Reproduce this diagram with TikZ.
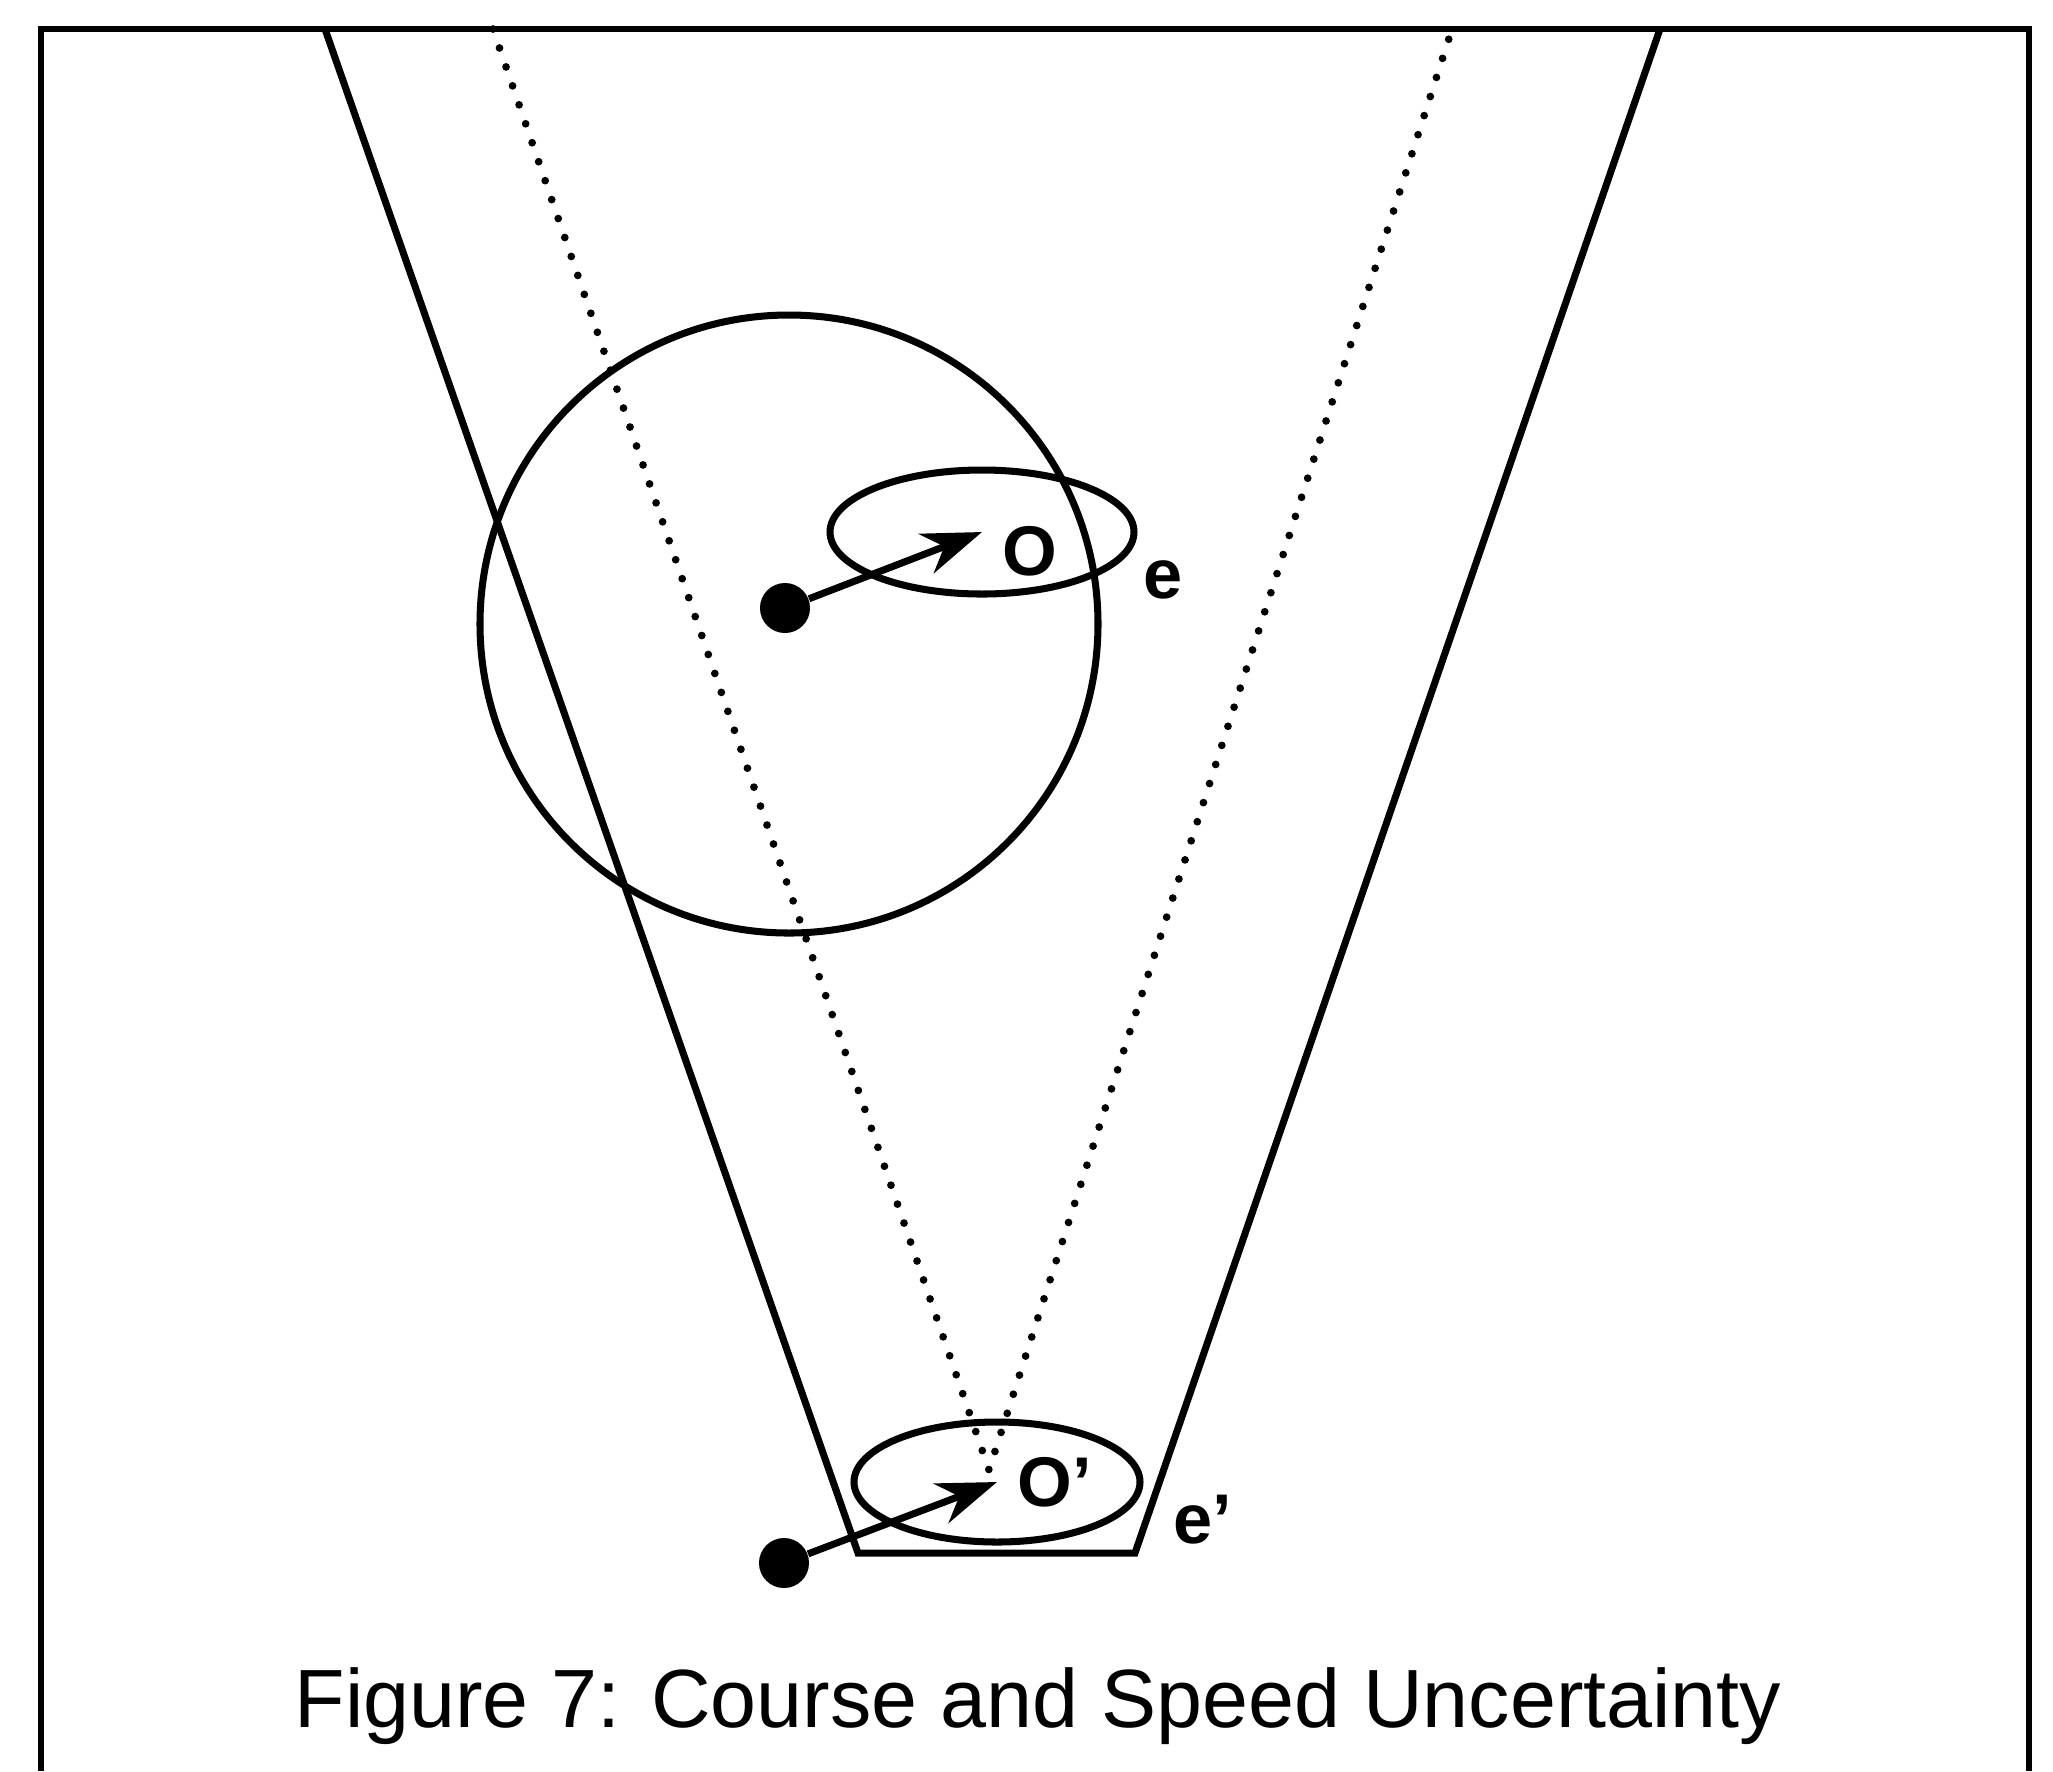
\documentclass[tikz,border=0pt]{standalone}
\usepackage{fontspec}
\setmainfont{Liberation Sans}
\usepackage{tikz}
\usetikzlibrary{arrows.meta, positioning, calc}
\tikzset{
  boxline/.style={line width=1.5pt},
  bound/.style={line width=2pt, line join=miter},
  track/.style={line width=2.2pt, line cap=round, dash pattern=on 0pt off 5.7pt},
  region/.style={line width=2pt},
  ship/.style={circle, fill=black, inner sep=0pt, minimum size=0.5cm},
  vec/.style={-{Stealth[length=17pt, width=12pt]}, line width=2pt},
  lbl/.style={inner sep=0pt, font=\fontsize{20}{24}\selectfont\bfseries},
  captext/.style={inner sep=0pt, font=\fontsize{23.5}{28}\selectfont}
}

\begin{document}
\begin{tikzpicture}[x=0.01cm, y=-0.01cm]
  \useasboundingbox (0,0) rectangle (2053,1771);

  % Frame (open at the bottom)
  \draw[boxline] (41,1771) -- (41,29) -- (2029,29) -- (2029,1771);

  % Positions and region centres
  \node[ship] (dotA) at (785,608) {};
  \node[ship] (dotB) at (784,1563) {};
  \coordinate (ctrA) at (982,532);
  \coordinate (ctrB) at (997,1482);
  \coordinate (ctrC) at (789,624);

  % Outer bounds
  \coordinate (topL) at (325,29);
  \coordinate (topR) at (1660,29);
  \coordinate (baseL) at (858,1553);
  \coordinate (baseR) at (1135,1553);
  \draw[bound] (topL) -- (baseL) -- (baseR) -- (topR);

  % Course spread
  \coordinate (spreadL) at (493,29);
  \coordinate (spreadR) at (1452,29);
  \coordinate (apex) at (989,1470);
  \draw[track] (spreadL) -- (apex) -- (spreadR);

  % Uncertainty regions
  \draw[region] (ctrC) circle [radius=309];
  \draw[region] (ctrA) ellipse [x radius=152, y radius=62];
  \draw[region] (ctrB) ellipse [x radius=143, y radius=60];

  % Velocity vectors
  \draw[vec] (dotA) -- (ctrA);
  \draw[vec] (dotB) -- (ctrB);

  % Labels
  \node[lbl, anchor=base west] (labA) at (1002,575) {O};
  \node[lbl, anchor=base west] (labB) at (1017,1506) {O'};
  \node[lbl, anchor=base west] (estA) at (1143,598) {e};
  \node[lbl, anchor=base west] (estB) at (1173,1543) {e'};

  \node[captext, anchor=base] (cap) at (1038,1727)
    {Figure 7: Course and Speed Uncertainty};
\end{tikzpicture}
\end{document}
